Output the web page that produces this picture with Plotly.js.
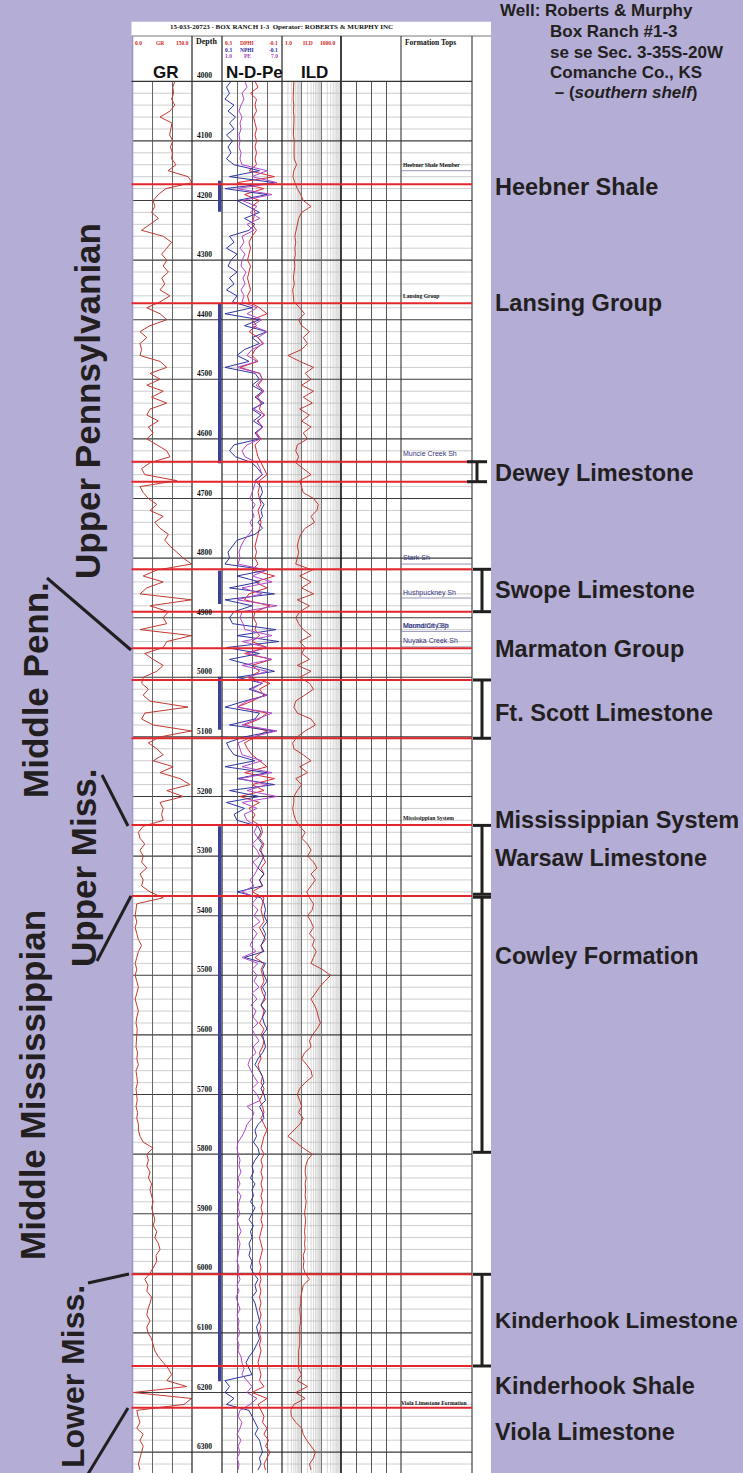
<!DOCTYPE html>
<html><head><meta charset="utf-8">
<script src="https://cdn.plot.ly/plotly-3.0.1.min.js"></script>
<style>html,body{margin:0;padding:0;background:#b4add6;overflow:hidden}#chart{width:743px;height:1473px}</style>
</head><body><div id="chart"></div>
<script>
// ---------------- DATA ----------------
const depth = [
4000,4010,4020,4030,4040,4050,4060,4070,4080,4090,
4100,4110,4120,4130,4140,4150,4160,4170,4180,4190,
4200,4210,4220,4230,4240,4250,4260,4270,4280,4290,
4300,4310,4320,4330,4340,4350,4360,4370,4380,4390,
4400,4410,4420,4430,4440,4450,4460,4470,4480,4490,
4500,4510,4520,4530,4540,4550,4560,4570,4580,4590,
4600,4610,4620,4630,4640,4650,4660,4670,4680,4690,
4700,4710,4720,4730,4740,4750,4760,4770,4780,4790,
4800,4810,4820,4830,4840,4850,4860,4870,4880,4890,
4900,4910,4920,4930,4940,4950,4960,4970,4980,4990,
5000,5010,5020,5030,5040,5050,5060,5070,5080,5090,
5100,5110,5120,5130,5140,5150,5160,5170,5180,5190,
5200,5210,5220,5230,5240,5250,5260,5270,5280,5290,
5300,5310,5320,5330,5340,5350,5360,5370,5380,5390,
5400,5410,5420,5430,5440,5450,5460,5470,5480,5490,
5500,5510,5520,5530,5540,5550,5560,5570,5580,5590,
5600,5610,5620,5630,5640,5650,5660,5670,5680,5690,
5700,5710,5720,5730,5740,5750,5760,5770,5780,5790,
5800,5810,5820,5830,5840,5850,5860,5870,5880,5890,
5900,5910,5920,5930,5940,5950,5960,5970,5980,5990,
6000,6010,6020,6030,6040,6050,6060,6070,6080,6090,
6100,6110,6120,6130,6140,6150,6160,6170,6180,6190,
6200,6210,6220,6230,6240,6250,6260,6270,6280,6290,
6300,6310,6320,6330];

// Gamma ray, API (0-150)
const gr = [
107,102,104,99,107,95,70,100,97,94,
102,96,101,99,110,90,140,150,85,66,
53,57,49,66,45,24,78,99,87,74,
87,78,91,74,82,70,95,70,37,70,
87,45,20,37,20,24,20,70,87,45,
70,37,78,49,87,45,37,66,41,53,
37,62,87,95,45,24,32,112,20,28,
41,62,45,78,57,70,91,82,95,112,
128,149,62,28,78,37,20,149,45,91,
78,87,20,149,87,78,32,53,78,62,
28,24,41,28,45,140,32,24,53,149,
70,41,62,78,53,103,70,120,145,87,
128,70,78,74,78,28,16,20,32,20,
28,24,37,20,28,24,45,78,12,10,
8,12,8,12,16,24,16,12,8,12,
8,12,16,12,8,12,16,12,10,13,
12,12,10,14,12,16,10,12,14,10,
12,13,10,14,12,16,16,20,28,53,
37,41,37,45,41,49,45,49,53,49,
53,57,53,62,57,66,70,60,62,53,
45,32,40,37,49,45,40,37,45,37,
40,49,53,57,66,78,91,99,87,137,
3,149,130,12,15,20,12,28,20,28,
24,20,16,20];

// Deep induction resistivity, ohm-m (log 1-1000)
const ild = [
4.0,3.8,3.9,3.7,4.0,3.8,4.1,3.9,4.0,3.8,
4.2,4.0,4.1,4.2,5.5,4.0,3.6,4.5,6.0,9,
12,30,10,7,6,5.5,4.5,5,4.5,4.8,
4.2,4.5,4.0,3.8,4.2,3.5,3.8,4.0,8,14,
7,10,25,12,20,10,2,8,40,15,
30,10,40,12,35,8,25,10,30,12,
20,6,5,7,5,12,30,8,10,12,
40,70,60,30,45,15,9,7,6,7,
6,5,35,8,30,10,40,6,25,8,
5,7,12,30,8,15,10,25,6,30,
8,25,40,15,5,4,6,30,50,15,
6,3.5,4,12,30,8,20,5,10,6,
4,4,3.5,4,5,8,15,10,20,30,
20,40,60,30,50,30,18,25,40,35,
20,30,40,25,45,35,55,40,30,110,
300,150,80,50,30,45,60,70,90,60,
35,25,30,14,10,18,30,35,15,8,
6,8,10,7,12,8,4,2,5,12,
35,20,16,15,17,15,16,15,17,15,
14,16,15,14,15,14,15,12,13,12,
15,25,12,10,9,9,8,8.5,9,8,
8,7.5,8,7,7,6.5,7,10,6,20,
5,15,4,2.8,3,5,10,12,18,30,
50,40,25,30];

// Neutron porosity (0.3 to -0.1)
const nphi = [
.24,.27,.25,.28,.22,.26,.21,.25,.22,.27,
.23,.26,.24,.27,.22,.05,.25,-.05,.28,.0,
.2,.12,.05,.15,.08,.12,.25,.22,.27,.2,
.24,.26,.2,.25,.22,.27,.2,.23,.1,.28,
.05,.15,.0,.1,.05,.15,.2,.12,.28,.08,
.05,.1,.03,.08,.02,.1,.04,.09,.03,.08,
.05,.22,.25,.21,.1,.06,.03,.08,.04,.03,
.05,.02,.04,.03,.06,.03,.08,.2,.23,.26,
.25,.28,.0,.2,.05,.25,-.05,.28,.1,.22,
.25,.23,-.06,.2,-.08,.27,.05,.25,.1,-.05,
.2,.03,.12,.0,.15,.28,.05,.08,.25,-.05,
.15,.27,.25,.22,.08,.28,.0,.2,-.05,.25,
.05,.27,.15,.22,.2,.06,.04,.06,.03,.05,
.02,.04,.06,.02,.05,.03,.2,.04,.02,.01,
.02,.0,.03,.01,.02,.04,.02,.15,.01,.03,
.02,.0,.03,.01,.02,.04,.01,.03,.02,.0,
.03,.02,.01,.03,.06,.08,.05,.03,.02,.04,
.02,.01,.05,.03,.02,.06,.08,.07,.09,.06,
.05,.08,.1,.09,.11,.08,.1,.09,.11,.08,
.1,.12,.09,.11,.1,.12,.11,.12,.1,.11,
.09,.06,.08,.07,.1,.08,.07,.06,.05,.07,
.06,.05,.07,.09,.12,.14,.12,.1,.28,.25,
.28,.22,.27,.12,.1,.08,.06,.08,.05,.04,
.03,.05,.04,.06];

// Density porosity (0.3 to -0.1)
const dphi = [
.08,.06,.11,.07,.08,.07,.09,.08,.07,.08,
.07,.08,.07,.08,.07,.12,-.05,.2,.02,.15,
.05,.1,.08,.09,.1,.07,.1,.12,.11,.12,
.13,.11,.12,.13,.12,.11,.13,.12,.05,.0,
.1,.07,.12,.06,.03,.08,.1,.06,.18,.05,
.03,.06,.02,.07,.04,.05,.02,.06,.03,.07,
.04,.08,.07,.06,.04,.02,.0,.05,.05,.06,
.05,.04,.06,.05,.04,.05,.06,.07,.08,.07,
.08,.06,.1,-.05,.08,.0,.12,.15,-.02,.08,
.09,.07,.08,.05,.1,.0,.15,-.03,.1,.05,
.12,-.02,.05,.02,.1,.2,.0,.05,.15,.0,
.08,.15,.13,.1,.05,.0,.15,-.05,.1,.02,
.18,.05,.12,.08,.1,.04,.03,.05,.02,.04,
.03,.01,.04,.02,.05,.03,.1,.02,.03,.04,
.03,.02,.05,.03,.01,.04,.03,.08,.02,.04,
.03,.02,.04,.03,.01,.04,.02,.03,.05,.02,
.04,.02,.03,.05,.04,.06,.05,.03,.04,.02,
.03,.05,.03,.02,.04,.02,.0,.02,.03,.04,
.02,.04,.03,.04,.03,.04,.03,.04,.03,.04,
.03,.04,.03,.04,.05,.04,.03,.04,.05,.04,
.05,.04,.05,.04,.05,.04,.05,.04,.05,.04,
.05,.04,.05,.04,.05,.06,.05,.04,.05,.02,
.1,.0,.06,.04,.02,.03,.0,.02,-.01,.01,
-.02,.0,.02,.01];

// Photoelectric factor (1 to 7)
const pe = [
3.3,3.5,3.0,3.2,2.9,2.7,3.0,2.8,2.9,2.7,
2.8,2.7,2.9,2.8,3.0,5.5,4.0,6.5,2.5,6.0,
3.0,4.5,3.8,4.8,3.5,4.2,3.0,3.2,2.8,3.3,
3.0,2.9,3.4,3.1,3.3,2.9,3.2,3.0,4.5,3.5,
5.0,4.0,5.5,4.6,5.2,4.0,3.5,4.5,2.5,4.8,
5.0,4.4,5.2,4.6,5.0,4.2,5.3,4.5,5.1,4.4,
4.8,3.5,3.0,3.3,4.5,4.8,5.0,4.4,4.2,4.0,
3.8,4.3,4.0,4.2,3.8,4.1,3.7,3.2,2.9,2.7,
2.8,2.6,5.5,4.0,6.0,3.0,5.0,2.5,6.5,3.0,
2.8,3.1,3.3,6.0,3.0,5.5,3.5,6.0,3.0,5.5,
3.5,5.0,4.0,5.5,3.5,2.5,6.0,4.5,3.0,6.5,
4.0,2.6,2.8,3.0,5.0,3.0,6.0,2.8,5.5,3.5,
6.5,3.0,4.5,3.2,3.5,4.5,4.2,4.6,4.0,4.5,
4.8,4.1,4.6,4.3,3.8,4.2,3.0,4.5,4.0,4.6,
4.2,4.8,4.0,4.5,4.1,3.8,4.4,3.0,4.6,4.0,
4.5,4.2,4.7,4.0,4.5,3.9,4.4,4.1,4.6,4.0,
4.3,4.7,4.1,4.4,3.8,3.6,3.9,4.2,4.6,4.0,
4.5,4.8,3.5,4.2,4.0,3.5,3.3,3.0,2.6,2.5,
2.6,2.8,2.7,2.9,2.6,2.8,2.5,2.9,2.7,2.6,
2.8,2.5,2.7,2.9,2.6,2.8,2.7,2.6,2.5,2.7,
2.6,2.8,2.5,2.7,2.4,2.6,2.8,2.5,2.7,2.6,
2.8,2.5,2.7,2.6,2.9,3.0,3.2,3.0,3.5,4.0,
3.5,4.5,3.8,2.8,2.6,3.0,2.8,2.5,2.9,2.6,
2.8,2.5,2.7,2.6];

const depthLabels = [4000,4100,4200,4300,4400,4500,4600,4700,4800,4900,5000,5100,5200,5300,5400,5500,5600,5700,5800,5900,6000,6100,6200,6300];

// formation tops (red lines), ft
const formationTopDepths = [4172.8,4372.5,4638.3,4671.8,4818.8,4889.9,4951.3,5004.5,5102.3,5247.8,5366.9,6001.7,6155.5,6225.5];

// bracketed intervals, ft
const bracketTop = [4638.3,4818.8,5004.5,5248.5,5369,6001.7];
const bracketBottom = [4671.8,4889.9,5102.3,5364,5797,6155.5];

// cored / marked intervals in depth track, ft
const coreTop = [4167,4373,4821,4999,5250];
const coreBottom = [4219,4641,4877,5088,6181];

// right-hand unit names and their depths
const unitNames = ["Heebner Shale","Lansing Group","Dewey Limestone","Swope Limestone","Marmaton Group","Ft. Scott Limestone","Mississippian System","Warsaw Limestone","Cowley Formation","Kinderhook Limestone","Kinderhook Shale","Viola Limestone"];
const unitDepths = [4177,4372,4657,4853,4952,5060,5239,5303,5467,6080,6189,6266];

// formation tops track labels
const trackTopNames = ["Heebner Shale Member","Lansing Group","Muncie Creek Sh","Stark Sh","Hushpuckney Sh","Mound City Sh","Marmaton Grp","Nuyaka Creek Sh","Mississippian System","Viola Limestone Formation"];
const trackTopDepths = [4140,4361,4624,4799,4858,4914,4914,4939,5236,6218];
const trackTopMarkerDepths = [4150,4810,4867,4923,4949];

// left-hand series labels
const seriesNames = ["Upper Pennsylvanian","Middle Penn.","Upper Miss.","Middle Mississippian","Lower Miss."];

// ---------------- GEOMETRY / STYLE ----------------
const W = 743, H = 1473;
const px = x => x / W;
const py = y => 1 - y / H;
const Y_TOP = 81.3, PX_FT = 0.596;
const D_TOP = 4000, D_BOT = D_TOP + (H - Y_TOP) / PX_FT;
const INK = '#231f20', RED = '#e3262b';
const seriesPos = [[87,401,35],[35,690,35],[84,868,35],[32,1085,35],[73,1377,32]];
const unitSize = [23.5,23.5,23.5,23.5,23.5,23.5,23.5,23.5,23.5,22.4,23.5,23.5];
const bracketX = [477,482,482,482,482,482];
const bracketCap = [[467,487],[473,491],[473,491],[473,491],[473,491],[473,491]];

const shapes = [];
const hl = (x0,x1,d,c,w,layer)=>shapes.push({type:'line',xref:'paper',yref:'y',x0:px(x0),x1:px(x1),y0:d,y1:d,line:{color:c,width:w},layer:layer||'above'});
// white log sheet
shapes.push({type:'rect',xref:'paper',yref:'paper',x0:px(131.5),x1:px(491),y0:0,y1:py(21.7),fillcolor:'#ffffff',line:{width:0},layer:'below'});
// ILD log minor grid
[1,10,100].forEach(m=>{for(let k=2;k<=9;k++){const x=282+19.667*Math.log10(k*m);
 shapes.push({type:'line',xref:'paper',yref:'paper',x0:px(x),x1:px(x),y0:0,y1:py(Y_TOP),line:{color:'#c4c4c4',width:0.7},layer:'below'});}});
// 20 ft grid (not through depth track) and 100 ft grid (through all)
for(let d=D_TOP; d<=D_BOT; d+=20){
 if(d%100===0){ hl(132,472,d,'#3c3c3c',1.1,'below'); }
 else { hl(132,192,d,'#b8b8b8',0.7,'below'); hl(222,472,d,'#b8b8b8',0.7,'below'); }
}
// header line
shapes.push({type:'line',xref:'paper',yref:'paper',x0:px(131.5),x1:px(491),y0:py(36),y1:py(36),line:{color:'#777',width:1}});
// track borders
[[192,'#222',1.2],[222,'#222',1.2],[282,'#222',1.2],[341,'#111',1.6],[401,'#333',1.1],[472,'#333',1.1]].forEach(([x,c,w])=>{
 shapes.push({type:'line',xref:'paper',yref:'paper',x0:px(x),x1:px(x),y0:0,y1:py(36),line:{color:c,width:w}});});
shapes.push({type:'line',xref:'paper',yref:'paper',x0:px(132.3),x1:px(132.3),y0:0,y1:py(36),line:{color:'#9d97c4',width:2}});
shapes.push({type:'line',xref:'paper',yref:'paper',x0:px(131.5),x1:px(472),y0:py(Y_TOP),y1:py(Y_TOP),line:{color:'#333',width:1.2}});
// formation tops track marker lines
trackTopMarkerDepths.forEach(d=>hl(401,472,d,'#7a7aa8',0.8));
// core bars
coreTop.forEach((t,i)=>shapes.push({type:'line',xref:'paper',yref:'y',x0:px(219.6),x1:px(219.6),y0:t,y1:coreBottom[i],line:{color:'#3a3f9d',width:3.2}}));
// red formation lines
formationTopDepths.forEach(d=>hl(131.5,472,d,RED,2));
// brackets
bracketTop.forEach((t,i)=>{const b=bracketBottom[i],x=bracketX[i],c=bracketCap[i];
 shapes.push({type:'line',xref:'paper',yref:'y',x0:px(x),x1:px(x),y0:t,y1:b,line:{color:INK,width:3}});
 hl(c[0],c[1],t,INK,3); hl(c[0],c[1],b,INK,3);});
// connector lines for left labels
[[47,578,131,650],[102,775,128,826],[131,896,97,961],[88,1283,129,1274],[128,1408,88,1474]].forEach(([a,b,c,d])=>
 shapes.push({type:'line',xref:'paper',yref:'paper',x0:px(a),y0:py(b),x1:px(c),y1:py(d),line:{color:INK,width:3}}));

const annotations = [];
function A(text,x,y,font,opt){annotations.push(Object.assign({text:text,x:px(x),y:py(y),xref:'paper',yref:'paper',showarrow:false,xanchor:'center',yanchor:'middle',font:font},opt||{}));}
const serif = 'Liberation Serif, Times New Roman, serif';
const sans = 'Liberation Sans, Arial, sans-serif';
const hdrRed='#d42b2b', hdrBlue='#2a2a9c', hdrMag='#b03cb8';
A('<b>15-033-20723 - BOX RANCH 1-3  Operator: ROBERTS &amp; MURPHY INC</b>',281,27.5,{family:serif,size:7,color:'#111'});
// header scale labels
const hs = (t,x,y,c,anch)=>A('<b>'+t+'</b>',x,y,{family:serif,size:5.5,color:c},anch?{xanchor:anch}:{});
hs('0.0',132.5,42.7,hdrRed,'left'); hs('GR',160.5,42.7,hdrRed); hs('150.0',182.5,42.7,hdrRed);
hs('0.3',223,42.7,hdrRed,'left'); hs('DPHI',247,42.7,hdrRed); hs('-0.1',273,42.7,hdrRed);
hs('0.3',223,49.5,hdrBlue,'left'); hs('NPHI',247,49.5,hdrBlue); hs('-0.1',273,49.5,hdrBlue);
hs('1.0',223,56.3,hdrMag,'left'); hs('PE',247,56.3,hdrMag); hs('7.0',274,56.3,hdrMag);
hs('1.0',283,42.7,hdrRed,'left'); hs('ILD',308,42.7,hdrRed); hs('1000.0',327,42.7,hdrRed);
A('<b>Depth</b>',206.5,41.5,{family:serif,size:8,color:'#111'});
A('<b>Formation Tops</b>',402.5,42,{family:serif,size:7.5,color:'#111'},{xanchor:'left'});
A('<b>GR</b>',165.5,72,{family:sans,size:17,color:'#111'});
A('<b>N-D-Pe</b>',254,72,{family:sans,size:17,color:'#111'});
A('<b>ILD</b>',314,72,{family:sans,size:17,color:'#111'});
// depth numbers
depthLabels.forEach(d=>annotations.push({text:'<b>'+d+'</b>',x:px(204),y:d,xref:'paper',yref:'y',showarrow:false,xanchor:'center',yanchor:'bottom',borderpad:0,font:{family:serif,size:7.5,color:'#111'}}));
// formation tops track labels
trackTopNames.forEach((t,i)=>{const isSerif=[0,1,8,9].includes(i);
 const viola=(i===9);
 annotations.push({text:isSerif?'<b>'+t+'</b>':t,x:px(viola?470:401),y:trackTopDepths[i],xref:'paper',yref:'y',showarrow:false,
 xanchor:viola?'right':'left',yanchor:'middle',font:isSerif?{family:serif,size:5.6,color:'#111'}:{family:sans,size:7,color:'#34347e'}});});
// unit names on right
unitNames.forEach((t,i)=>annotations.push({text:'<b>'+t+'</b>',x:px(493),y:unitDepths[i],xref:'paper',yref:'y',showarrow:false,xanchor:'left',yanchor:'middle',font:{family:sans,size:unitSize[i],color:INK}}));
// series labels on left
seriesNames.forEach((t,i)=>A('<b>'+t+'</b>',seriesPos[i][0],seriesPos[i][1],{family:sans,size:seriesPos[i][2],color:INK},{textangle:-90}));
// well info
const wf={family:sans,size:17,color:INK};
A('<b>Well: Roberts &amp; Murphy</b>',498,10.5,wf,{xanchor:'left'});
A('<b>Box Ranch #1-3</b>',548,31.5,wf,{xanchor:'left'});
A('<b>se se Sec. 3-35S-20W</b>',548,52,wf,{xanchor:'left'});
A('<b>Comanche Co., KS</b>',548,72.5,wf,{xanchor:'left'});
A('<b> – (<i>southern shelf</i>)</b>',548,92.5,wf,{xanchor:'left'});

const line = (c)=>({color:c,width:1});
const traces = [
 {type:'scatter',mode:'lines',x:gr,y:depth,xaxis:'x',yaxis:'y',line:line('#c23a30'),hoverinfo:'skip'},
 {type:'scatter',mode:'lines',x:dphi,y:depth,xaxis:'x2',yaxis:'y',line:line('#dc2a32'),hoverinfo:'skip'},
 {type:'scatter',mode:'lines',x:pe,y:depth,xaxis:'x3',yaxis:'y',line:line('#b048c8'),hoverinfo:'skip'},
 {type:'scatter',mode:'lines',x:nphi,y:depth,xaxis:'x2',yaxis:'y',line:line('#2f36a0'),hoverinfo:'skip'},
 {type:'scatter',mode:'lines',x:ild,y:depth,xaxis:'x4',yaxis:'y',line:line('#c23a30'),hoverinfo:'skip'},
 {type:'scatter',mode:'lines',x:[null],y:[null],xaxis:'x5',yaxis:'y',hoverinfo:'skip'}
];

const ax = {showticklabels:false,ticks:'',zeroline:false,showline:false,fixedrange:true};
const layout = {
 width:W,height:H,margin:{l:0,r:0,t:0,b:0,pad:0},
 paper_bgcolor:'#b4add6',plot_bgcolor:'rgba(0,0,0,0)',
 showlegend:false,hovermode:false,font:{family:sans},
 yaxis:Object.assign({},ax,{domain:[0,py(Y_TOP)],range:[D_BOT,D_TOP],anchor:'x',showgrid:false}),
 xaxis:Object.assign({},ax,{domain:[px(132),px(192)],range:[0,150],anchor:'y',tickmode:'array',tickvals:[50,100],showgrid:true,gridcolor:'#555',gridwidth:0.9}),
 xaxis2:Object.assign({},ax,{domain:[px(222),px(282)],range:[0.3,-0.1],anchor:'y',tickmode:'array',tickvals:[0.2,0.1,0],showgrid:true,gridcolor:'#555',gridwidth:0.9}),
 xaxis3:Object.assign({},ax,{domain:[px(222),px(282)],range:[1,7],anchor:'y',overlaying:'x2',showgrid:false}),
 xaxis4:Object.assign({},ax,{type:'log',domain:[px(282),px(341)],range:[0,3],anchor:'y',tickmode:'array',tickvals:[10,100],showgrid:true,gridcolor:'#666',gridwidth:0.9}),
 xaxis5:Object.assign({},ax,{domain:[px(341),px(472)],range:[0,131],anchor:'y',tickmode:'array',tickvals:[15,30,45],showgrid:true,gridcolor:'#444',gridwidth:0.9}),
 shapes:shapes,annotations:annotations
};
Plotly.newPlot('chart',traces,layout,{staticPlot:true,displayModeBar:false});
</script>
</body></html>
